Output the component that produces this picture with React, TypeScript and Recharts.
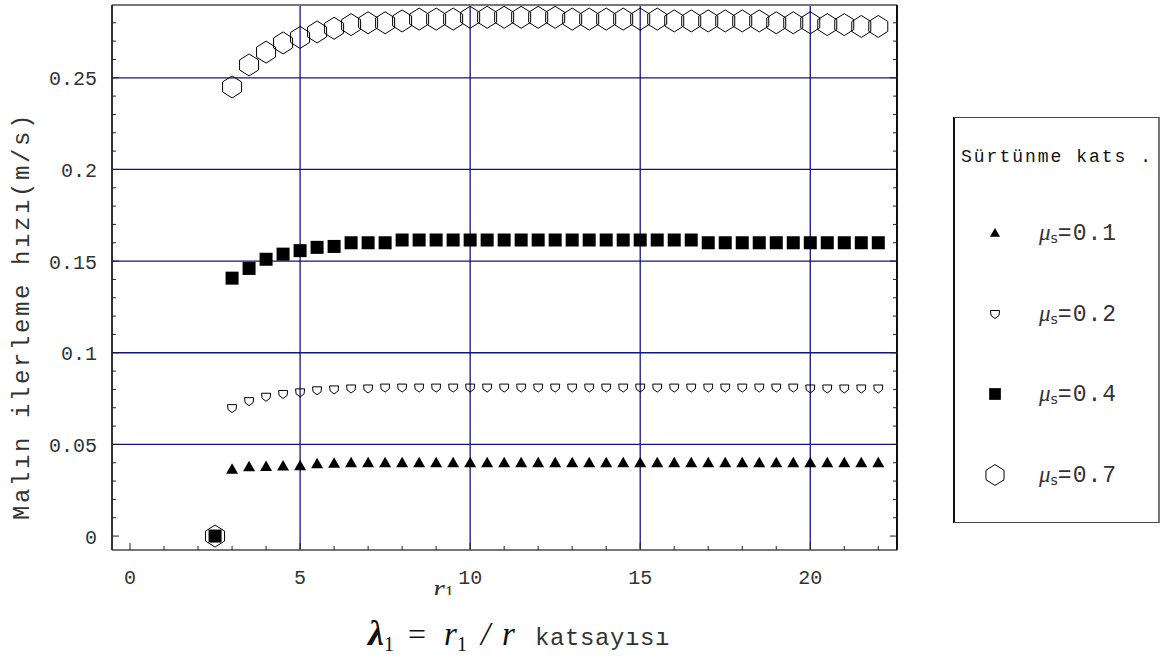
import React from 'react';
import { ScatterChart, Scatter, XAxis, YAxis, ReferenceLine, Legend } from 'recharts';

// lambda_1 = r1 / r values
const lambdas = [2.5, 3, 3.5, 4, 4.5, 5, 5.5, 6, 6.5, 7, 7.5, 8, 8.5, 9, 9.5, 10, 10.5, 11, 11.5, 12,
  12.5, 13, 13.5, 14, 14.5, 15, 15.5, 16, 16.5, 17, 17.5, 18, 18.5, 19, 19.5, 20, 20.5, 21, 21.5, 22];

// conveying speed (m/s) for each friction coefficient
const speedMu01 = [0, 0.0364, 0.0378, 0.038, 0.0382, 0.0384, 0.0395, 0.0397, 0.04, 0.04, 0.04, 0.04, 0.04, 0.04, 0.04, 0.04, 0.04, 0.04, 0.04, 0.04,
  0.04, 0.04, 0.04, 0.04, 0.04, 0.04, 0.04, 0.04, 0.04, 0.04, 0.04, 0.04, 0.04, 0.04, 0.04, 0.04, 0.04, 0.04, 0.04, 0.04];
const speedMu02 = [0, 0.0698, 0.0736, 0.076, 0.0775, 0.0784, 0.0795, 0.08, 0.0805, 0.0805, 0.081, 0.081, 0.081, 0.081, 0.081, 0.081, 0.081, 0.081, 0.081, 0.081,
  0.081, 0.081, 0.081, 0.081, 0.081, 0.081, 0.081, 0.081, 0.081, 0.081, 0.081, 0.081, 0.081, 0.081, 0.081, 0.0805, 0.0805, 0.0805, 0.0805, 0.0805];
const speedMu04 = [0, 0.1407, 0.146, 0.151, 0.1538, 0.1557, 0.1575, 0.158, 0.16, 0.16, 0.16, 0.1615, 0.1615, 0.1615, 0.1615, 0.1615, 0.1615, 0.1615, 0.1615, 0.1615,
  0.1615, 0.1615, 0.1615, 0.1615, 0.1615, 0.1615, 0.1615, 0.1615, 0.1615, 0.16, 0.16, 0.16, 0.16, 0.16, 0.16, 0.16, 0.16, 0.16, 0.16, 0.16];
const speedMu07 = [0, 0.245, 0.257, 0.264, 0.269, 0.272, 0.275, 0.277, 0.279, 0.28, 0.28, 0.281, 0.282, 0.282, 0.282, 0.283, 0.283, 0.283, 0.283, 0.283,
  0.283, 0.282, 0.282, 0.282, 0.282, 0.282, 0.282, 0.281, 0.281, 0.281, 0.281, 0.281, 0.281, 0.28, 0.28, 0.28, 0.279, 0.279, 0.278, 0.278];

const xTicks = [0, 1, 2, 3, 4, 5, 6, 7, 8, 9, 10, 11, 12, 13, 14, 15, 16, 17, 18, 19, 20, 21, 22];
const yTicks = [0, 0.01, 0.02, 0.03, 0.04, 0.05, 0.06, 0.07, 0.08, 0.09, 0.1, 0.11, 0.12, 0.13, 0.14,
  0.15, 0.16, 0.17, 0.18, 0.19, 0.2, 0.21, 0.22, 0.23, 0.24, 0.25, 0.26, 0.27, 0.28];
const xGrid = [5, 10, 15, 20];
const yGrid = [0.05, 0.1, 0.15, 0.2, 0.25];

const toPoints = (ys: number[]) => lambdas.map((x, i) => ({ x, y: ys[i] }));

const mono = '"Liberation Mono", "DejaVu Sans Mono", monospace';
const serif = '"Liberation Serif", "DejaVu Serif", serif';
const gridColor = '#14147e';
const tickColor = '#222';

const TICK_GAP = 20;
const X_DOMAIN = [-0.53, 22.55];
const Y_DOMAIN = [-0.0076, 0.2897];

const Triangle = ({ cx, cy, s = 1 }: any) => (
  <polygon points={`${cx},${cy - 6 * s} ${cx + 6 * s},${cy + 4.5 * s} ${cx - 6 * s},${cy + 4.5 * s}`} fill="#000" />
);
const Pentagon = ({ cx, cy, s = 1 }: any) => (
  <polygon
    points={`${cx - 4.5 * s},${cy - 3.5 * s} ${cx + 4.5 * s},${cy - 3.5 * s} ${cx + 4 * s},${cy + 1.5 * s} ${cx},${cy + 4.5 * s} ${cx - 4 * s},${cy + 1.5 * s}`}
    fill="none" stroke="#000" strokeWidth={1} />
);
const Square = ({ cx, cy, s = 1 }: any) => (
  <rect x={cx - 6.5 * s} y={cy - 6.5 * s} width={13 * s} height={13 * s} fill="#000" />
);
const Hexagon = ({ cx, cy, s = 1 }: any) => (
  <polygon
    points={`${cx},${cy - 11 * s} ${cx + 9.5 * s},${cy - 5 * s} ${cx + 9.5 * s},${cy + 5 * s} ${cx},${cy + 11 * s} ${cx - 9.5 * s},${cy + 5 * s} ${cx - 9.5 * s},${cy - 5 * s}`}
    fill="none" stroke="#000" strokeWidth={1} />
);

const series = [
  { key: 'mu07', label: '0.7', data: toPoints(speedMu07), Shape: Hexagon, legendScale: 0.95 },
  { key: 'mu02', label: '0.2', data: toPoints(speedMu02), Shape: Pentagon, legendScale: 1 },
  { key: 'mu01', label: '0.1', data: toPoints(speedMu01), Shape: Triangle, legendScale: 0.85 },
  { key: 'mu04', label: '0.4', data: toPoints(speedMu04), Shape: Square, legendScale: 0.9 },
];
const legendOrder = ['mu01', 'mu02', 'mu04', 'mu07'];

const BottomTick = ({ x, y, payload }: any) => {
  const v = payload.value;
  const axisY = y - TICK_GAP;
  const major = v % 5 === 0;
  return (
    <g>
      <line x1={x} x2={x} y1={axisY} y2={axisY - (major ? 7 : 4)} stroke={tickColor} />
      {major && (
        <text x={x} y={axisY + 28} textAnchor="middle" dominantBaseline="central"
          fontFamily={mono} fontSize={20} fill="#333">{v}</text>
      )}
    </g>
  );
};

const TopTick = ({ x, y, payload }: any) => {
  const major = payload.value % 5 === 0;
  return <line x1={x} x2={x} y1={y} y2={y + (major ? 7 : 4)} stroke={tickColor} />;
};

const LeftTick = ({ x, y, payload }: any) => {
  const v = payload.value;
  const axisX = x + 15;
  const major = Math.round(v * 100) % 5 === 0;
  return (
    <g>
      <line x1={axisX} x2={axisX + (major ? 7 : 4)} y1={y} y2={y} stroke={tickColor} />
      {major && (
        <text x={x} y={y + 2} textAnchor="end" dominantBaseline="central"
          fontFamily={mono} fontSize={20} fill="#333">{String(v)}</text>
      )}
    </g>
  );
};

const RightTick = ({ x, y, payload }: any) => {
  const major = Math.round(payload.value * 100) % 5 === 0;
  return <line x1={x} x2={x - (major ? 7 : 4)} y1={y} y2={y} stroke={tickColor} />;
};

const LegendBox = () => (
  <div style={{
    position: 'absolute', left: 953, top: 117, width: 207, height: 406,
    borderLeft: '2px solid #111', borderRight: '2px solid #777', borderTop: '1px solid #444', borderBottom: '1px solid #444',
    background: '#fff', boxSizing: 'border-box',
  }}>
    <div style={{ position: 'absolute', left: 6, top: 29, fontFamily: mono, fontSize: 18, letterSpacing: 2, color: '#111', whiteSpace: 'pre' }}>
      Sürtünme kats .
    </div>
    {legendOrder.map((k, i) => {
      const s = series.find((d) => d.key === k)!;
      const cy = 115 + i * 80.7;
      return (
        <div key={k} style={{ position: 'absolute', left: 0, top: cy - 15, height: 30, width: 200 }}>
          <svg width={60} height={30} style={{ position: 'absolute', left: 10, top: 0 }}>
            <s.Shape cx={30} cy={15} s={s.legendScale} />
          </svg>
          <div style={{ position: 'absolute', left: 84, top: 0, lineHeight: '30px', whiteSpace: 'pre', color: '#333' }}>
            <span style={{ fontFamily: serif, fontStyle: 'italic', fontSize: 23 }}>μ</span>
            <span style={{ fontFamily: '"DejaVu Sans", sans-serif', fontSize: 14, position: 'relative', top: 3 }}>s</span>
            <span style={{ fontFamily: mono, fontSize: 23, letterSpacing: 1 }}>={s.label}</span>
          </div>
        </div>
      );
    })}
  </div>
);

const gap = (w: number) => <span style={{ display: 'inline-block', width: w }} />;

export default function App() {
  return (
    <div style={{ position: 'absolute', left: 0, top: 0, width: 1165, height: 660, background: '#fff' }}>
      <ScatterChart width={1165} height={660} margin={{ top: 4, right: 267, bottom: 60, left: 52 }}>
        <XAxis type="number" dataKey="x" domain={X_DOMAIN} ticks={xTicks} interval={0}
          allowDataOverflow height={50} tickSize={0} tickMargin={TICK_GAP} tick={<BottomTick />}
          axisLine={{ stroke: '#777', strokeWidth: 2 }} tickLine={false} />
        <XAxis xAxisId="top" orientation="top" type="number" domain={X_DOMAIN} ticks={xTicks} interval={0}
          allowDataOverflow height={1} tickSize={0} tickMargin={0} tick={<TopTick />}
          axisLine={{ stroke: '#777', strokeWidth: 2 }} tickLine={false} />
        <YAxis type="number" dataKey="y" domain={Y_DOMAIN} ticks={yTicks} interval={0}
          allowDataOverflow width={60} tickSize={0} tickMargin={15} tick={<LeftTick />}
          axisLine={{ stroke: '#333', strokeWidth: 2 }} tickLine={false} />
        <YAxis yAxisId="right" orientation="right" type="number" domain={Y_DOMAIN} ticks={yTicks} interval={0}
          allowDataOverflow width={1} tickSize={0} tickMargin={0} tick={<RightTick />}
          axisLine={{ stroke: '#111', strokeWidth: 2 }} tickLine={false} />
        {xGrid.map((v) => (
          <ReferenceLine key={`vx${v}`} x={v} stroke={gridColor} strokeWidth={1.3} />
        ))}
        {yGrid.map((v) => (
          <ReferenceLine key={`hy${v}`} y={v} stroke={gridColor} strokeWidth={1.3} />
        ))}
        {series.map((s) => (
          <Scatter key={s.key} name={s.key} data={s.data} isAnimationActive={false}
            shape={(p: any) => <s.Shape cx={p.cx} cy={p.cy} />} />
        ))}
        <Legend layout="horizontal" verticalAlign="middle" align="center"
          wrapperStyle={{ position: 'absolute', left: 0, top: 0, width: 0, height: 0 }}
          content={() => null} />
      </ScatterChart>

      {/* y axis title */}
      <div style={{
        position: 'absolute', left: 22, top: 316, transform: 'translate(-50%, -50%) rotate(-90deg)',
        fontFamily: mono, fontSize: 24, letterSpacing: 2.6, color: '#333', whiteSpace: 'pre',
      }}>
        Malın ilerleme hızı(m/s)
      </div>

      {/* half-hidden r1 under the 10 tick label, as in the source figure */}
      <div style={{ position: 'absolute', left: 433, top: 583, height: 12, overflow: 'hidden', whiteSpace: 'pre' }}>
        <div style={{ marginTop: -9, lineHeight: '30px' }}>
          <span style={{ fontFamily: serif, fontStyle: 'italic', fontSize: 30, color: '#333' }}>r</span>
          <span style={{ fontFamily: serif, fontSize: 18, color: '#333' }}>1</span>
        </div>
      </div>

      {/* x axis title */}
      <div style={{ position: 'absolute', left: 368, top: 618, height: 32, whiteSpace: 'pre', color: '#111', lineHeight: '30px' }}>
        <span style={{ fontFamily: serif, fontStyle: 'italic', fontWeight: 'bold', fontSize: 36 }}>λ</span>
        <span style={{ fontFamily: serif, fontSize: 20, position: 'relative', top: 6 }}>1</span>
        {gap(14)}
        <span style={{ fontFamily: serif, fontSize: 32 }}>=</span>
        {gap(18)}
        <span style={{ fontFamily: serif, fontStyle: 'italic', fontSize: 33 }}>r</span>
        <span style={{ fontFamily: serif, fontSize: 20, position: 'relative', top: 6 }}>1</span>
        {gap(14)}
        <span style={{ fontFamily: serif, fontStyle: 'italic', fontSize: 33 }}>/</span>
        {gap(12)}
        <span style={{ fontFamily: serif, fontStyle: 'italic', fontSize: 33 }}>r</span>
        {gap(20)}
        <span style={{ fontFamily: mono, fontSize: 24, letterSpacing: 0.6, color: '#333' }}>katsayısı</span>
      </div>

      <LegendBox />
    </div>
  );
}
